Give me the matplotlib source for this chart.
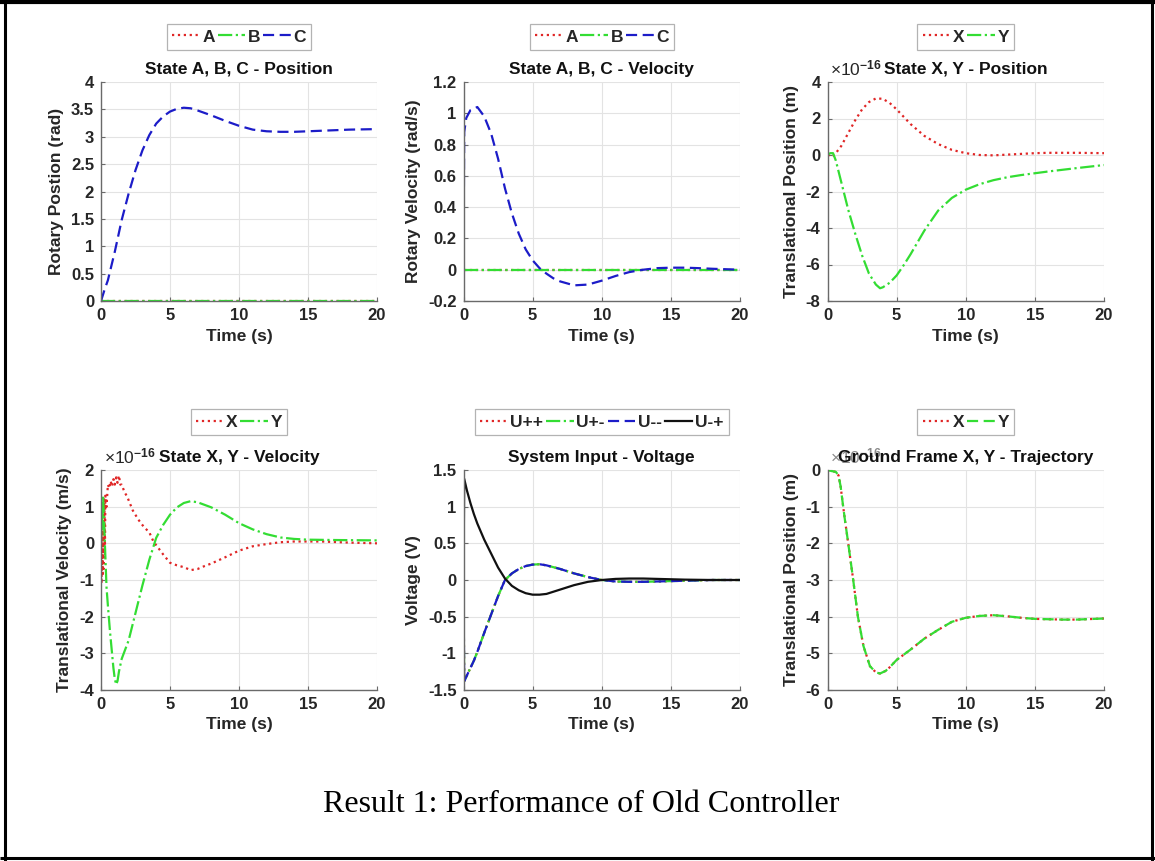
import matplotlib
matplotlib.use("Agg")
import matplotlib.pyplot as plt
from matplotlib.lines import Line2D

plt.rcParams['font.family'] = ['Liberation Sans', 'DejaVu Sans']
plt.rcParams['font.weight'] = 'bold'
plt.rcParams['axes.labelweight'] = 'bold'
plt.rcParams['axes.titleweight'] = 'bold'
plt.rcParams['mathtext.fontset'] = 'custom'
plt.rcParams['mathtext.rm'] = 'Liberation Sans'
plt.rcParams['mathtext.it'] = 'Liberation Sans:italic'
plt.rcParams['mathtext.bf'] = 'Liberation Sans:bold'

# ---------------- data ----------------
# Plot 1: rotary position (rad)
t_pos_c = [0, 0.25, 0.5, 1, 1.5, 2, 2.5, 3, 3.5, 4, 4.5, 5, 5.5, 6, 6.5, 7, 8, 9, 10, 11, 12, 13, 14, 15, 16, 18, 20]
pos_c = [0, 0.2, 0.38, 0.9, 1.48, 1.96, 2.39, 2.75, 3.03, 3.24, 3.37, 3.46, 3.51, 3.53, 3.52, 3.48, 3.39, 3.29,
         3.2, 3.13, 3.1, 3.09, 3.09, 3.1, 3.11, 3.13, 3.14]
t_flat = [0, 20]
pos_a = [0, 0]
pos_b = [0, 0]

# Plot 2: rotary velocity (rad/s)
t_vel_c = [0, 0.05, 0.2, 0.5, 1, 1.5, 2, 2.5, 3, 3.5, 4, 4.5, 5, 5.5, 6, 6.5, 7, 8, 9, 10, 11, 12, 13, 14,
           15, 16, 17, 18, 20]
vel_c = [0, 0.88, 0.97, 1.02, 1.04, 0.98, 0.87, 0.71, 0.52, 0.36, 0.23, 0.13, 0.06, 0.01, -0.025, -0.055,
         -0.075, -0.1, -0.095, -0.07, -0.04, -0.015, 0.0, 0.01, 0.013, 0.013, 0.01, 0.006, 0.0]
vel_a = [0, 0]
vel_b = [0, 0]

# Plot 3: translational position (x 1e-16 m)
t_pos_x = [0, 0.2, 0.4, 0.6, 1, 1.5, 2, 2.5, 3, 3.5, 4, 4.5, 5, 5.5, 6, 7, 8, 9, 10, 11, 12, 13, 14, 15, 16, 18, 20]
pos_x = [0, -0.1, -0.05, 0.1, 0.5, 1.2, 1.9, 2.5, 2.9, 3.1, 3.08, 2.85, 2.5, 2.1, 1.7, 1.05, 0.6, 0.28, 0.1,
         0.0, -0.02, 0.02, 0.06, 0.1, 0.12, 0.12, 0.1]
t_pos_y = [0, 0.2, 0.4, 0.6, 1, 1.5, 2, 2.5, 3, 3.5, 3.8, 4, 4.5, 5, 5.5, 6, 7, 8, 9, 10, 11, 12, 13, 14, 16, 18, 20]
pos_y = [0, 0.1, 0.1, -0.3, -1.5, -3.0, -4.3, -5.5, -6.5, -7.1, -7.3, -7.25, -7.0, -6.6, -6.05, -5.45, -4.15,
         -3.05, -2.35, -1.9, -1.6, -1.38, -1.22, -1.1, -0.9, -0.72, -0.55]

# Plot 4: translational velocity (x 1e-16 m/s)
t_vel_x = [0, 0.04, 0.08, 0.12, 0.16, 0.2, 0.24, 0.28, 0.32, 0.4, 0.5, 0.6, 0.7, 0.8, 0.9, 1.0, 1.1, 1.2, 1.3,
           1.4, 1.5, 1.7, 1.9, 2.3, 2.7, 3.1, 3.5, 3.8, 4.5, 5, 5.5, 6, 6.5, 7, 7.5, 8, 9, 10, 11, 12, 13, 14,
           15, 16, 18, 20]
vel_x = [0, -1.1, 0.6, -0.9, 1.0, -0.7, 1.2, -0.3, 1.3, 1.0, 1.6, 1.5, 1.7, 1.55, 1.75, 1.6, 1.8, 1.65, 1.85,
         1.6, 1.6, 1.4, 1.27, 0.9, 0.65, 0.45, 0.3, 0.05, -0.3, -0.53, -0.6, -0.65, -0.73, -0.7, -0.62, -0.55,
         -0.38, -0.2, -0.08, -0.02, 0.03, 0.05, 0.05, 0.05, 0.02, 0.0]
t_vel_y = [0, 0.05, 0.1, 0.15, 0.2, 0.3, 0.4, 0.5, 0.65, 0.8, 0.9, 1.0, 1.1, 1.2, 1.3, 1.5, 1.75, 2, 2.5, 3,
           3.5, 4, 4.5, 5, 5.5, 6, 6.5, 7, 7.5, 8, 9, 10, 11, 12, 13, 14, 15, 17, 20]
vel_y = [0, 1.0, 0.4, 1.3, 0.8, -0.2, -1.2, -1.7, -2.4, -3.0, -3.4, -3.7, -3.85, -3.75, -3.5, -3.15, -2.9,
         -2.65, -1.9, -1.15, -0.45, 0.15, 0.5, 0.78, 0.98, 1.1, 1.15, 1.12, 1.05, 0.98, 0.78, 0.55, 0.38,
         0.25, 0.16, 0.12, 0.1, 0.09, 0.08]

# Plot 5: system input voltage (V)
t_volt = [0, 0.05, 0.25, 0.5, 0.75, 1, 1.5, 2, 2.5, 3, 3.5, 4, 4.5, 5, 5.5, 6, 7, 8, 9, 10, 11, 12, 13, 14,
          15, 16, 18, 20]
u_mp = [0, 1.38, 1.22, 1.05, 0.9, 0.77, 0.55, 0.36, 0.17, 0.02, -0.08, -0.14, -0.18, -0.2, -0.2, -0.19,
        -0.13, -0.07, -0.025, 0.0, 0.015, 0.02, 0.02, 0.015, 0.01, 0.005, 0.0, 0.0]
u_neg = [0, -1.38, -1.3, -1.2, -1.1, -0.98, -0.72, -0.47, -0.22, 0.0, 0.09, 0.15, 0.19, 0.21, 0.215, 0.2,
         0.15, 0.09, 0.04, 0.0, -0.02, -0.025, -0.025, -0.02, -0.015, -0.01, 0.0, 0.0]
u_pp = u_neg
u_pm = u_neg
u_mm = u_neg

# Plot 6: ground frame trajectory (x 1e-16 m)
t_traj = [0, 0.3, 0.6, 0.8, 0.95, 1.1, 1.26, 1.5, 1.86, 2.2, 2.6, 3.07, 3.5, 3.8, 4.2, 4.5, 5, 6, 7, 8, 9, 10,
          11, 12, 13, 14, 15, 16, 17, 18, 20]
traj = [0, -0.03, -0.05, -0.15, -0.45, -0.9, -1.36, -2.0, -3.0, -4.0, -4.8, -5.35, -5.52, -5.55, -5.48, -5.38,
        -5.18, -4.9, -4.6, -4.36, -4.14, -4.03, -3.98, -3.96, -3.99, -4.03, -4.06, -4.07, -4.08, -4.08, -4.05]
traj_x = traj
traj_y = traj

x_ticks = [0, 5, 10, 15, 20]

# ---------------- styling ----------------
RED = '#e02626'
GREEN = '#33dd33'
BLUE = '#1c1cc8'
BLACK = '#111111'
TXT = '#262626'
LW = 1.6

W, H = 1155, 861
fig = plt.figure(figsize=(W / 100, H / 100), dpi=100)

cols = [(101, 377), (463.5, 740), (827.5, 1104)]
rows = [(82, 301), (470, 690)]


def make_ax(r, c):
    x0, x1 = cols[c]
    y0, y1 = rows[r]
    ax = fig.add_axes([x0 / W, 1 - y1 / H, (x1 - x0) / W, (y1 - y0) / H])
    ax.grid(True, color='#e3e3e3', lw=0.8)
    ax.set_axisbelow(True)
    for s in ['top', 'right']:
        ax.spines[s].set_visible(False)
    for s in ['left', 'bottom']:
        ax.spines[s].set_color('#6a6a6a')
        ax.spines[s].set_linewidth(1.0)
    ax.tick_params(direction='in', length=3, width=0.8, color='#6a6a6a', labelsize=12,
                   labelcolor=TXT, pad=5)
    ax.set_xlim(0, 20)
    ax.set_xticks(x_ticks)
    ax.set_xticklabels([str(v) for v in x_ticks])
    ax.set_xlabel('Time (s)', fontsize=12.5, color=TXT, labelpad=4, fontweight='bold')
    return ax


def set_yt(ax, ticks, lo, hi):
    ax.set_ylim(lo, hi)
    ax.set_yticks(ticks)
    ax.set_yticklabels(['%g' % round(v, 3) for v in ticks])


def legend(ax, handles, labels, r, c):
    x0, x1 = cols[c]
    yc = 37 if r == 0 else 422
    lg = fig.legend(handles, labels, loc='center', bbox_to_anchor=((x0 + x1) / 2 / W, 1 - yc / H),
                    ncol=len(labels), frameon=True, fancybox=False, edgecolor='#a0a0a0',
                    prop={'size': 12.5, 'weight': 'bold'}, handlelength=1.6, handletextpad=0.15,
                    columnspacing=0.15, borderpad=0.3, borderaxespad=0)
    lg.get_frame().set_linewidth(0.9)
    for t in lg.get_texts():
        t.set_color(TXT)


def offset(ax, color=TXT):
    ax.annotate('×10$^{-16}$', xy=(0, 1), xycoords='axes fraction', xytext=(2, 10),
                textcoords='offset points', ha='left', va='center', fontsize=12.5,
                color=color, fontweight='normal', zorder=1)


DASH = (0, (5, 2.5))


def ylab(ax, s):
    ax.set_ylabel(s, fontsize=12.5, color=TXT, labelpad=5, fontweight='bold')


def title(ax, s):
    ax.set_title(s, fontsize=12.5, fontweight='bold', pad=6, color='#111111')

# Plot 1
ax = make_ax(0, 0)
h1, = ax.plot(t_flat, pos_a, color=RED, linestyle=':', lw=LW)
h2, = ax.plot(t_flat, pos_b, color=GREEN, linestyle='-.', lw=LW)
h3, = ax.plot(t_pos_c, pos_c, color=BLUE, linestyle=DASH, lw=LW)
set_yt(ax, [0, 0.5, 1, 1.5, 2, 2.5, 3, 3.5, 4], 0, 4)
title(ax, 'State A, B, C - Position')
ylab(ax, 'Rotary Postion (rad)')
legend(ax, [h1, h2, h3], ['A', 'B', 'C'], 0, 0)

# Plot 2
ax = make_ax(0, 1)
h1, = ax.plot(t_flat, vel_a, color=RED, linestyle=':', lw=LW)
h2, = ax.plot(t_flat, vel_b, color=GREEN, linestyle='-.', lw=LW)
h3, = ax.plot(t_vel_c, vel_c, color=BLUE, linestyle=DASH, lw=LW)
set_yt(ax, [-0.2, 0, 0.2, 0.4, 0.6, 0.8, 1, 1.2], -0.2, 1.2)
title(ax, 'State A, B, C - Velocity')
ylab(ax, 'Rotary Velocity (rad/s)')
legend(ax, [h1, h2, h3], ['A', 'B', 'C'], 0, 1)

# Plot 3
ax = make_ax(0, 2)
h1, = ax.plot(t_pos_x, pos_x, color=RED, linestyle=':', lw=LW)
h2, = ax.plot(t_pos_y, pos_y, color=GREEN, linestyle='-.', lw=LW)
set_yt(ax, [-8, -6, -4, -2, 0, 2, 4], -8, 4)
offset(ax)
title(ax, 'State X, Y - Position')
ylab(ax, 'Translational Position (m)')
legend(ax, [h1, h2], ['X', 'Y'], 0, 2)

# Plot 4
ax = make_ax(1, 0)
h1, = ax.plot(t_vel_x, vel_x, color=RED, linestyle=':', lw=LW)
h2, = ax.plot(t_vel_y, vel_y, color=GREEN, linestyle='-.', lw=LW)
set_yt(ax, [-4, -3, -2, -1, 0, 1, 2], -4, 2)
offset(ax)
title(ax, 'State X, Y - Velocity')
ylab(ax, 'Translational Velocity (m/s)')
legend(ax, [h1, h2], ['X', 'Y'], 1, 0)

# Plot 5
ax = make_ax(1, 1)
h1, = ax.plot(t_volt, u_pp, color=RED, linestyle=':', lw=LW)
h2, = ax.plot(t_volt, u_pm, color=GREEN, linestyle='-.', lw=LW)
h3, = ax.plot(t_volt, u_mm, color=BLUE, linestyle=DASH, lw=LW)
h4, = ax.plot(t_volt, u_mp, color=BLACK, linestyle='-', lw=LW)
set_yt(ax, [-1.5, -1, -0.5, 0, 0.5, 1, 1.5], -1.5, 1.5)
title(ax, 'System Input - Voltage')
ylab(ax, 'Voltage (V)')
legend(ax, [h1, h2, h3, h4], ['U++', 'U+-', 'U--', 'U-+'], 1, 1)

# Plot 6
ax = make_ax(1, 2)
h1, = ax.plot(t_traj, traj_x, color=RED, linestyle=':', lw=LW)
h2, = ax.plot(t_traj, traj_y, color=GREEN, linestyle=DASH, lw=LW)
set_yt(ax, [-6, -5, -4, -3, -2, -1, 0], -6, 0)
offset(ax, color='#8a8a8a')
title(ax, 'Ground Frame X, Y - Trajectory')
ylab(ax, 'Translational Position (m)')
legend(ax, [h1, h2], ['X', 'Y'], 1, 2)

# Caption
fig.text(581 / W, 1 - 805 / H, 'Result 1: Performance of Old Controller', ha='center', va='center',
         fontsize=23, fontweight='normal', family=['Liberation Serif', 'DejaVu Serif'], color='black')

# Document table borders
def fline(x0, y0, x1, y1, lw):
    fig.add_artist(Line2D([x0 / W, x1 / W], [1 - y0 / H, 1 - y1 / H], color='black', lw=lw,
                          solid_capstyle='butt'))

fline(0, 2, W, 2, 3.0)
fline(5, 0, 5, H, 2.2)
fline(W - 3, 0, W - 3, H, 2.2)
fline(0, H - 3, W, H - 3, 2.2)
fline(364, 0, 364, 3, 1.5)

fig.savefig('out.png', dpi=100)
